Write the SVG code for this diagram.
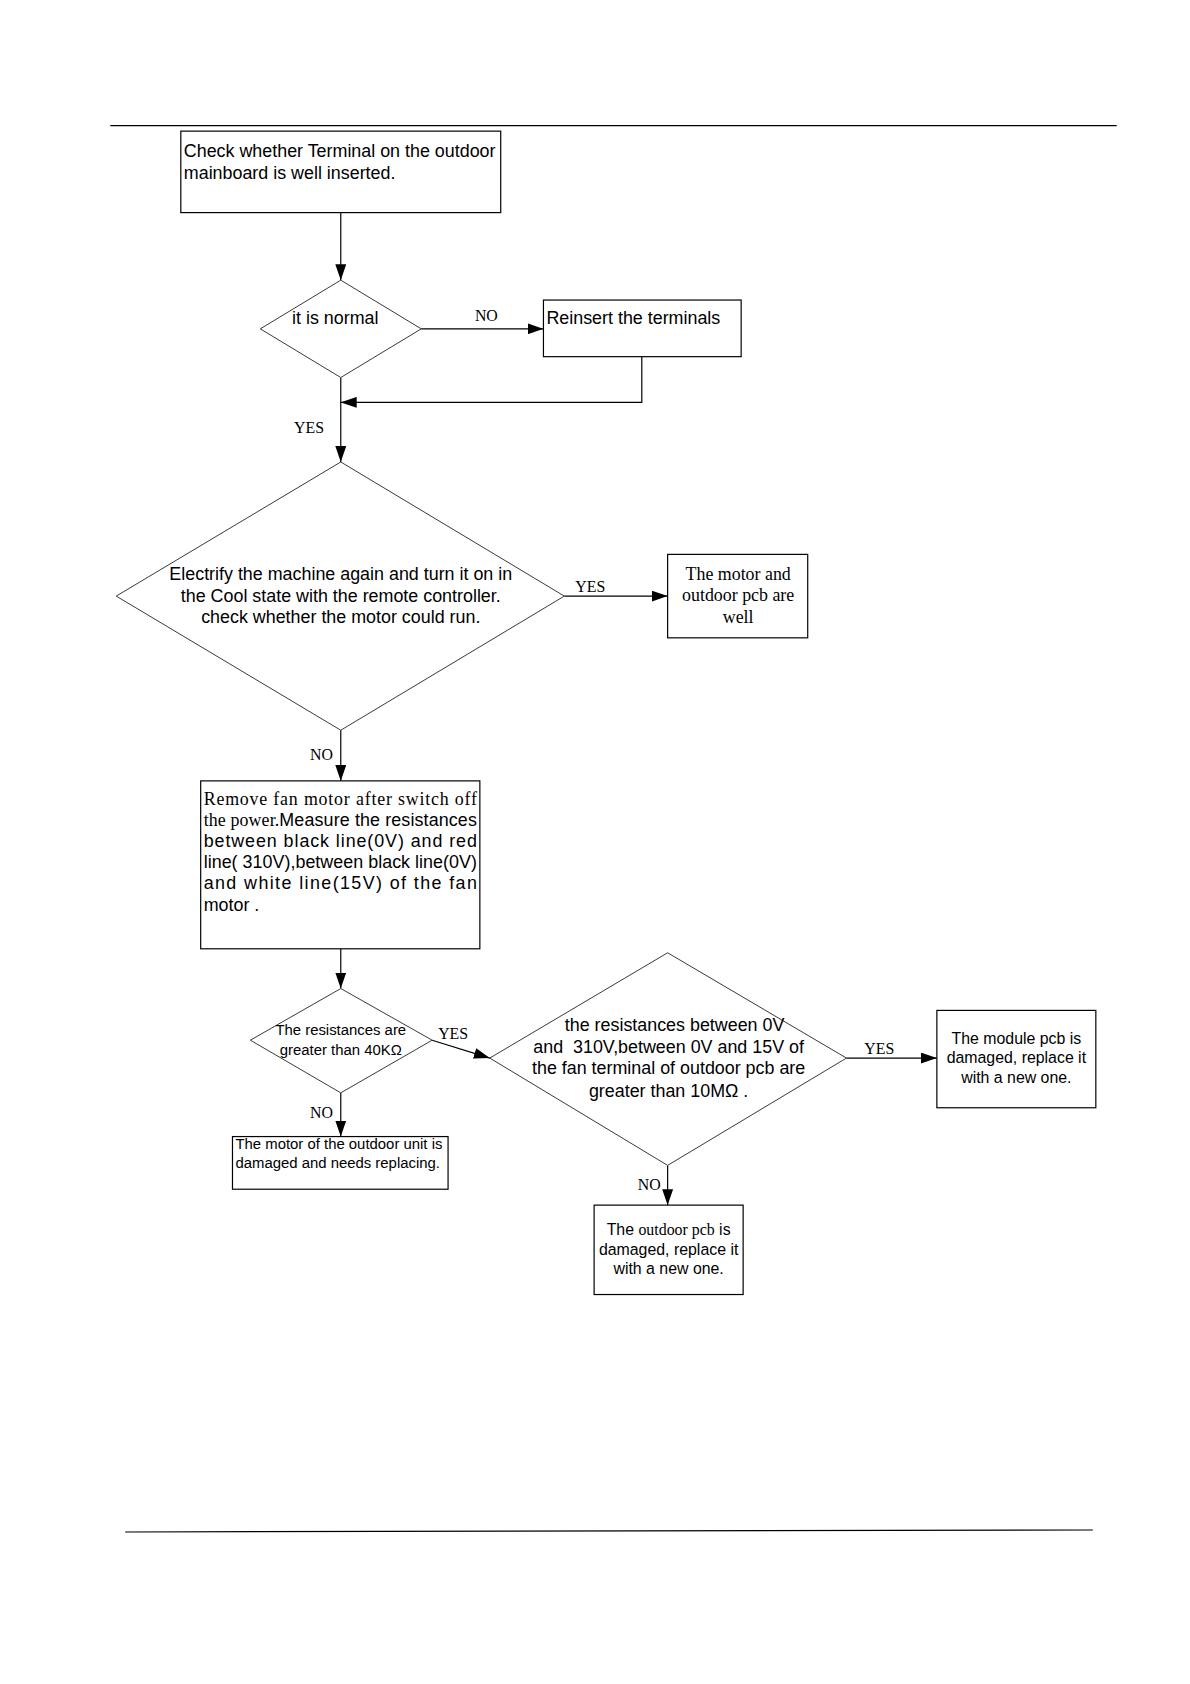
<svg xmlns="http://www.w3.org/2000/svg" width="1190" height="1684" viewBox="0 0 1190 1684">
<defs>
<marker id="ah" markerUnits="userSpaceOnUse" markerWidth="16" markerHeight="11" refX="16" refY="5.5" orient="auto"><path d="M0,0 L16,5.5 L0,11 Z" fill="#000"/></marker>
<style>
.box{fill:#fff;stroke:#000;stroke-width:1.2}
.dia{fill:#fff;stroke:#222;stroke-width:0.9}
.con{fill:none;stroke:#000;stroke-width:1.2}
.a{font-family:"Liberation Sans",Arial,sans-serif;font-size:18px;fill:#000}
.a15{font-family:"Liberation Sans",Arial,sans-serif;font-size:15px;fill:#000}
.a16{font-family:"Liberation Sans",Arial,sans-serif;font-size:16px;fill:#000}
.t{font-family:"Liberation Serif","Times New Roman",serif;font-size:18px;fill:#000}
.lbl{font-family:"Liberation Serif","Times New Roman",serif;font-size:16px;fill:#000}
.c{text-anchor:middle}
</style>
</defs>
<rect width="1190" height="1684" fill="#fff"/>
<g transform="scale(0.9935)">
<line x1="111" y1="126.5" x2="1124" y2="126.5" stroke="#000" stroke-width="1.2"/>
<line x1="126" y1="1542" x2="1100" y2="1540" stroke="#000" stroke-width="1.2"/>

<g id="connectors">
<line class="con" x1="343" y1="214" x2="343" y2="282" marker-end="url(#ah)"/>
<line class="con" x1="424" y1="331" x2="547" y2="331" marker-end="url(#ah)"/>
<polyline class="con" points="646,359 646,405 343,405" marker-end="url(#ah)"/>
<line class="con" x1="343" y1="380" x2="343" y2="465" marker-end="url(#ah)"/>
<line class="con" x1="568" y1="600" x2="672" y2="600" marker-end="url(#ah)"/>
<line class="con" x1="343" y1="735" x2="343" y2="786" marker-end="url(#ah)"/>
<line class="con" x1="343" y1="955" x2="343" y2="995" marker-end="url(#ah)"/>
<line class="con" x1="343" y1="1100" x2="343" y2="1144" marker-end="url(#ah)"/>
<line class="con" x1="435" y1="1047" x2="493" y2="1065" marker-end="url(#ah)"/>
<line class="con" x1="852" y1="1065" x2="943" y2="1065" marker-end="url(#ah)"/>
<line class="con" x1="672" y1="1173" x2="672" y2="1213" marker-end="url(#ah)"/>
<text class="lbl" x="478" y="323">NO</text>
<text class="lbl" x="296" y="436">YES</text>
<text class="lbl" x="579" y="596">YES</text>
<text class="lbl" x="312" y="765">NO</text>
<text class="lbl" x="312" y="1125">NO</text>
<text class="lbl" x="441" y="1046">YES</text>
<text class="lbl" x="870" y="1061">YES</text>
<text class="lbl" x="642" y="1198">NO</text>
</g>

<g id="n1">
<rect class="box" x="182" y="132" width="322" height="82"/>
<text class="a" x="185" y="158">Check whether Terminal on the outdoor</text>
<text class="a" x="185" y="180">mainboard is well inserted.</text>
</g>

<g id="n2">
<polygon class="dia" points="262,331 343,282 424,331 343,380"/>
<text class="a" x="294" y="326">it is normal</text>
</g>

<g id="n3">
<rect class="box" x="547" y="302" width="199" height="57"/>
<text class="a" x="550" y="326">Reinsert the terminals</text>
</g>

<g id="n4">
<polygon class="dia" points="117,600 343,465 568,600 343,735"/>
<text class="a c" x="343" y="584">Electrify the machine again and turn it on in</text>
<text class="a c" x="343" y="605.5">the Cool state with the remote controller.</text>
<text class="a c" x="343" y="627">check whether the motor could run.</text>
</g>

<g id="n5">
<rect class="box" x="672" y="558" width="141" height="84"/>
<text class="t c" x="743" y="584">The motor and</text>
<text class="t c" x="743" y="605">outdoor pcb are</text>
<text class="t c" x="743" y="627">well</text>
</g>

<g id="n6">
<rect class="box" x="202" y="786" width="281" height="169"/>
<text class="t" x="205" y="810" textLength="275" lengthAdjust="spacing">Remove fan motor after switch off</text>
<text class="a" x="205" y="831" textLength="275" lengthAdjust="spacing"><tspan class="t">the power.</tspan>Measure the resistances</text>
<text class="a" x="205" y="853" textLength="275" lengthAdjust="spacing">between black line(0V) and red</text>
<text class="a" x="205" y="874" textLength="275" lengthAdjust="spacing">line( 310V),between black line(0V)</text>
<text class="a" x="205" y="895" textLength="275" lengthAdjust="spacing">and white line(15V) of the fan</text>
<text class="a" x="205" y="917">motor .</text>
</g>

<g id="n7">
<polygon class="dia" points="252,1047 343,995 435,1047 343,1100"/>
<text class="a15 c" x="343" y="1042">The resistances are</text>
<text class="a15 c" x="343" y="1062">greater than 40KΩ</text>
</g>

<g id="n8">
<rect class="box" x="234" y="1144" width="217" height="53"/>
<text class="a15" x="237" y="1157">The motor of the outdoor unit is</text>
<text class="a15" x="237" y="1176">damaged and needs replacing.</text>
</g>

<g id="n9">
<polygon class="dia" points="493,1065 672,959 852,1065 672,1173"/>
<text class="a c" x="679" y="1038">the resistances between 0V</text>
<text class="a c" x="673" y="1059.5" xml:space="preserve">and  310V,between 0V and 15V of</text>
<text class="a c" x="673" y="1081">the fan terminal of outdoor pcb are</text>
<text class="a c" x="673" y="1104">greater than 10MΩ .</text>
</g>

<g id="n10">
<rect class="box" x="943" y="1017" width="160" height="98"/>
<text class="a16 c" x="1023" y="1051">The module pcb is</text>
<text class="a16 c" x="1023" y="1070">damaged, replace it</text>
<text class="a16 c" x="1023" y="1090">with a new one.</text>
</g>

<g id="n11">
<rect class="box" x="598" y="1213" width="150" height="90"/>
<text class="a16 c" x="673" y="1243">The <tspan font-family="Liberation Serif, Times New Roman, serif">outdoor pcb</tspan> is</text>
<text class="a16 c" x="673" y="1263">damaged, replace it</text>
<text class="a16 c" x="673" y="1282">with a new one.</text>
</g>
</g>
</svg>
